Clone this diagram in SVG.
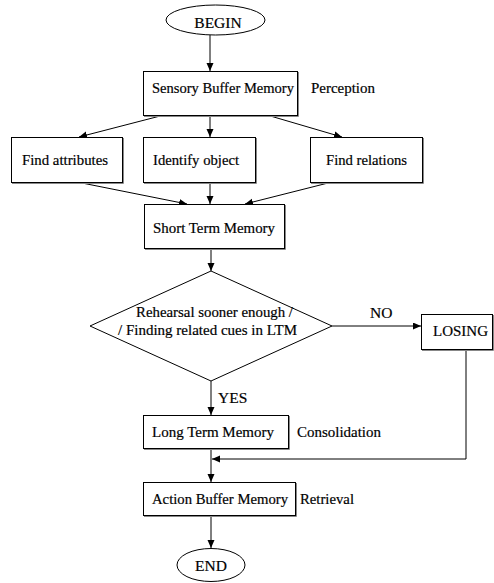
<svg xmlns="http://www.w3.org/2000/svg" width="494" height="583" viewBox="0 0 494 583">
  <style>
    text { font-family: "Liberation Serif", "Times New Roman", serif; font-size: 15.5px; fill: #000; stroke: #000; stroke-width: 0.2; }
    .box { fill: #fff; stroke: #000; stroke-width: 1; }
    .shade { fill: none; stroke: #888; stroke-width: 1; }
    .term { fill: #fff; stroke: #000; stroke-width: 1; }
    .link { fill: none; stroke: #000; stroke-width: 1; marker-end: url(#arrow); }
    .mid { text-anchor: middle; }
  </style>
  <defs>
    <marker id="arrow" markerUnits="userSpaceOnUse" markerWidth="9" markerHeight="8" refX="8" refY="3.5" orient="auto">
      <path d="M0,0 L8,3.5 L0,7 z" fill="#000"/>
    </marker>
  </defs>

  <!-- connectors -->
  <g id="connectors">
    <line class="link" x1="210" y1="35" x2="210" y2="71"/>
    <line class="link" x1="164" y1="115" x2="79" y2="137"/>
    <line class="link" x1="210" y1="115" x2="210" y2="137"/>
    <line class="link" x1="267" y1="115" x2="342" y2="137"/>
    <line class="link" x1="77" y1="182" x2="187" y2="204"/>
    <line class="link" x1="210" y1="182" x2="210" y2="204"/>
    <line class="link" x1="332" y1="182" x2="245" y2="204"/>
    <line class="link" x1="211" y1="248" x2="211" y2="271"/>
    <line class="link" x1="332" y1="326" x2="421" y2="326"/>
    <line class="link" x1="211" y1="381" x2="211" y2="415"/>
    <line class="link" x1="211" y1="448" x2="211" y2="482"/>
    <polyline class="link" points="466,349 466,459 212,459"/>
    <line class="link" x1="211" y1="515" x2="211" y2="548"/>
    <text x="370" y="318">NO</text>
    <text x="218" y="403">YES</text>
  </g>

  <g id="begin">
    <ellipse class="term" cx="215.5" cy="20" rx="49.5" ry="15"/>
    <text class="mid" x="218" y="28">BEGIN</text>
  </g>

  <g id="sensory-buffer">
    <path class="shade" d="M144,116.5 H298.5 V72"/>
    <rect class="box" x="143.5" y="71.5" width="154" height="44"/>
    <text x="152" y="93" textLength="142" lengthAdjust="spacingAndGlyphs">Sensory Buffer Memory</text>
    <text x="311" y="93" textLength="64" lengthAdjust="spacingAndGlyphs">Perception</text>
  </g>

  <g id="find-attributes">
    <path class="shade" d="M12,183.5 H123.5 V138"/>
    <rect class="box" x="11.5" y="137.5" width="111" height="45"/>
    <text x="22" y="165" textLength="86" lengthAdjust="spacingAndGlyphs">Find attributes</text>
  </g>

  <g id="identify-object">
    <path class="shade" d="M144,183.5 H256.5 V138"/>
    <rect class="box" x="143.5" y="137.5" width="112" height="45"/>
    <text x="153" y="165" textLength="86" lengthAdjust="spacingAndGlyphs">Identify object</text>
  </g>

  <g id="find-relations">
    <path class="shade" d="M311,183.5 H423.5 V138"/>
    <rect class="box" x="310.5" y="137.5" width="112" height="45"/>
    <text x="326" y="165" textLength="81" lengthAdjust="spacingAndGlyphs">Find relations</text>
  </g>

  <g id="short-term-memory">
    <path class="shade" d="M145,249.5 H285.5 V205"/>
    <rect class="box" x="144.5" y="204.5" width="140" height="44"/>
    <text x="153" y="233" textLength="122" lengthAdjust="spacingAndGlyphs">Short Term Memory</text>
  </g>

  <g id="rehearsal-check">
    <polygon class="box" points="211,271 332,326 211,381 90,326"/>
    <text x="136" y="317" textLength="157" lengthAdjust="spacingAndGlyphs">Rehearsal sooner enough /</text>
    <text x="118" y="335" textLength="179" lengthAdjust="spacingAndGlyphs">/ Finding related cues in LTM</text>
  </g>

  <g id="losing">
    <path class="shade" d="M422,350.5 H493.5 V315"/>
    <rect class="box" x="421.5" y="314.5" width="71" height="35"/>
    <text x="433" y="336" textLength="55" lengthAdjust="spacingAndGlyphs">LOSING</text>
  </g>

  <g id="long-term-memory">
    <path class="shade" d="M144,449.5 H289.5 V416"/>
    <rect class="box" x="143.5" y="415.5" width="145" height="33"/>
    <text x="152" y="437" textLength="122" lengthAdjust="spacingAndGlyphs">Long Term Memory</text>
    <text x="297" y="437" textLength="84" lengthAdjust="spacingAndGlyphs">Consolidation</text>
  </g>

  <g id="action-buffer">
    <path class="shade" d="M144,516.5 H296.5 V483"/>
    <rect class="box" x="143.5" y="482.5" width="152" height="33"/>
    <text x="152" y="504" textLength="136" lengthAdjust="spacingAndGlyphs">Action Buffer Memory</text>
    <text x="300" y="504" textLength="54" lengthAdjust="spacingAndGlyphs">Retrieval</text>
  </g>

  <g id="end">
    <ellipse class="term" cx="211" cy="565" rx="34" ry="16.5"/>
    <text class="mid" x="211" y="571">END</text>
  </g>
</svg>
